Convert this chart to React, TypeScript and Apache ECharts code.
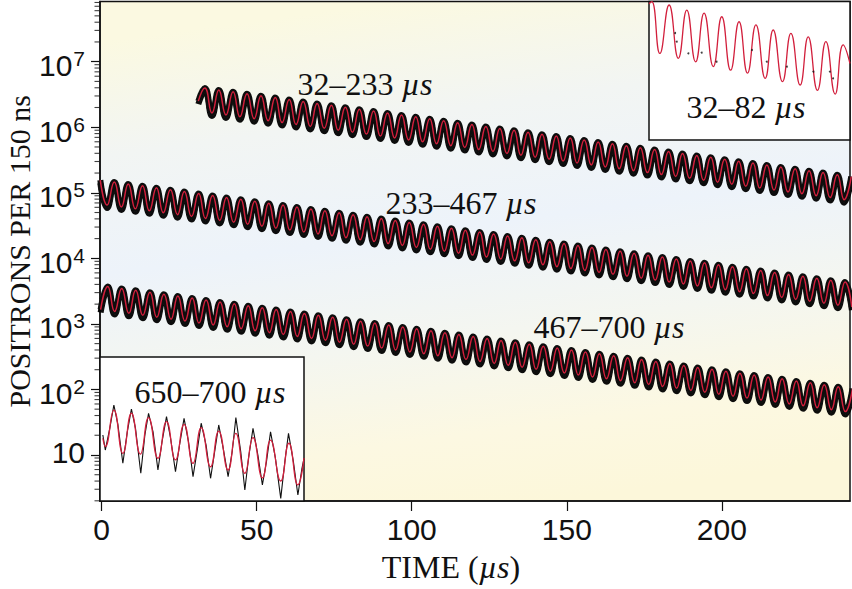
import { useEffect, useRef } from 'react'
import * as echarts from 'echarts'

// 计数用 log10 画在数值轴上，刻度和标签手动给出
const yDecades = [1, 2, 3, 4, 5, 6, 7]
const yMantissas = [2, 3, 4, 5, 6, 7, 8, 9]
const xTicks = [0, 50, 100, 150, 200]

// 拟合曲线的峰/谷 [时间 µs, 每 150 ns 正电子数]
const band1Fit = [
  [31.2, 2500000],
  [33.3, 3970000], [35.6, 1652000], [37.8, 3710000], [40.1, 1543000],
  [42.4, 3468000], [44.6, 1443000], [46.9, 3241000], [49.2, 1348000],
  [51.4, 3029000], [53.7, 1260000], [56.0, 2831000], [58.2, 1178000],
  [60.5, 2645000], [62.7, 1100000], [65.0, 2472000], [67.3, 1028000],
  [69.5, 2311000], [71.8, 961000], [74.1, 2159000], [76.3, 898000],
  [78.6, 2018000], [80.9, 839000], [83.1, 1886000], [85.4, 785000],
  [87.7, 1763000], [89.9, 733000], [92.2, 1648000], [94.5, 686000],
  [96.7, 1540000], [99.0, 641000], [101.3, 1439000], [103.5, 599000],
  [105.8, 1345000], [108.0, 560000], [110.3, 1257000], [112.6, 523000],
  [114.8, 1175000], [117.1, 489000], [119.4, 1098000], [121.6, 457000],
  [123.9, 1026000], [126.2, 427000], [128.4, 959000], [130.7, 399000],
  [133.0, 896000], [135.2, 373000], [137.5, 838000], [139.8, 349000],
  [142.0, 783000], [144.3, 326000], [146.6, 732000], [148.8, 305000],
  [151.1, 684000], [153.3, 285000], [155.6, 639000], [157.9, 266000],
  [160.1, 597000], [162.4, 248000], [164.7, 558000], [166.9, 232000],
  [169.2, 522000], [171.5, 217000], [173.7, 488000], [176.0, 203000],
  [178.3, 456000], [180.5, 190000], [182.8, 426000], [185.1, 177000],
  [187.3, 398000], [189.6, 166000], [191.9, 372000], [194.1, 155000],
  [196.4, 348000], [198.6, 145000], [200.9, 325000], [203.2, 135000],
  [205.4, 304000], [207.7, 126000], [210.0, 284000], [212.2, 118000],
  [214.5, 265000], [216.8, 110000], [219.0, 248000], [221.3, 103000],
  [223.6, 232000], [225.8, 96500], [228.1, 217000], [230.4, 90300],
  [232.6, 203000], [234.9, 84400], [237.2, 189000], [239.4, 78600],
  [241.7, 177000],
]

const band2Fit = [
  [-0.4, 156400], [1.8, 65060], [4.1, 146200], [6.4, 60820],
  [8.6, 136600], [10.9, 56830], [13.2, 127700], [15.4, 53120],
  [17.7, 119300], [19.9, 49630], [22.2, 111500], [24.5, 46380],
  [26.7, 104200], [29.0, 43350], [31.3, 97400], [33.5, 40520],
  [35.8, 91030], [38.1, 37870], [40.3, 85070], [42.6, 35390],
  [44.9, 79510], [47.1, 33080], [49.4, 74310], [51.7, 30910],
  [53.9, 69450], [56.2, 28890], [58.5, 64900], [60.7, 27000],
  [63.0, 60660], [65.2, 25230], [67.5, 56690], [69.8, 23580],
  [72.0, 52980], [74.3, 22040], [76.6, 49510], [78.8, 20600],
  [81.1, 46270], [83.4, 19250], [85.6, 43250], [87.9, 17990],
  [90.2, 40420], [92.4, 16810], [94.7, 37780], [97.0, 15720],
  [99.2, 35300], [101.5, 14680], [103.8, 32990], [106.0, 13720],
  [108.3, 30840], [110.5, 12830], [112.8, 28820], [115.1, 11990],
  [117.3, 26930], [119.6, 11200], [121.9, 25170], [124.1, 10470],
  [126.4, 23530], [128.7, 9788], [130.9, 21990], [133.2, 9148],
  [135.5, 20550], [137.7, 8549], [140.0, 19200], [142.3, 7987],
  [144.5, 17950], [146.8, 7467], [149.1, 16770], [151.3, 6976],
  [153.6, 15680], [155.8, 6523], [158.1, 14650], [160.4, 6094],
  [162.6, 13690], [164.9, 5695], [167.2, 12800], [169.4, 5325],
  [171.7, 11960], [174.0, 4975], [176.2, 11180], [178.5, 4651],
  [180.8, 10450], [183.0, 4347], [185.3, 9760], [187.6, 4060],
  [189.8, 9120], [192.1, 3794], [194.4, 8530], [196.6, 3548],
  [198.9, 7970], [201.1, 3316], [203.4, 7450], [205.7, 3099],
  [207.9, 6960], [210.2, 2895], [212.5, 6510], [214.7, 2708],
  [217.0, 6080], [219.3, 2529], [221.5, 5680], [223.8, 2363],
  [226.1, 5310], [228.3, 2209], [230.6, 4960], [232.9, 2063],
  [235.1, 4640], [237.4, 1930], [239.7, 4340], [241.9, 1805],
]

const band3Fit = [
  [-0.3, 1656],
  [2.0, 3721], [4.2, 1548], [6.5, 3478], [8.8, 1447],
  [11.0, 3250], [13.3, 1352], [15.6, 3037], [17.8, 1263],
  [20.1, 2839], [22.4, 1181], [24.6, 2653], [26.9, 1104],
  [29.2, 2479], [31.4, 1031], [33.7, 2317], [36.0, 964],
  [38.2, 2166], [40.5, 901], [42.8, 2024], [45.0, 842],
  [47.3, 1892], [49.5, 787], [51.8, 1768], [54.1, 735],
  [56.3, 1652], [58.6, 687], [60.9, 1544], [63.1, 642],
  [65.4, 1443], [67.7, 600], [69.9, 1349], [72.2, 561],
  [74.5, 1261], [76.7, 525], [79.0, 1178], [81.3, 490],
  [83.5, 1101], [85.8, 458], [88.1, 1029], [90.3, 428],
  [92.6, 962], [94.8, 400], [97.1, 899], [99.4, 374],
  [101.6, 840], [103.9, 349], [106.2, 785], [108.4, 327],
  [110.7, 734], [113.0, 305], [115.2, 686], [117.5, 285],
  [119.8, 641], [122.0, 267], [124.3, 599], [126.6, 249],
  [128.8, 560], [131.1, 233], [133.4, 523], [135.6, 218],
  [137.9, 489], [140.1, 203], [142.4, 457], [144.7, 190],
  [146.9, 427], [149.2, 178], [151.5, 399], [153.7, 166],
  [156.0, 373], [158.3, 155], [160.5, 349], [162.8, 145],
  [165.1, 326], [167.3, 136], [169.6, 304], [171.9, 126],
  [174.1, 285], [176.4, 119], [178.7, 266], [180.9, 111],
  [183.2, 249], [185.4, 104], [187.7, 232], [190.0, 96.5],
  [192.2, 217], [194.5, 90.3], [196.8, 203], [199.0, 84.4],
  [201.3, 190], [203.6, 78.9], [205.8, 177], [208.1, 73.7],
  [210.4, 166], [212.6, 68.9], [214.9, 155], [217.2, 64.4],
  [219.4, 145], [221.7, 60.2], [224.0, 135], [226.2, 56.2],
  [228.5, 126], [230.7, 52.5], [233.0, 118], [235.3, 49.1],
  [237.5, 110], [239.8, 45.9], [242.1, 103],
]

// 右上插图 32–82 µs
const earlyFit = [
  [32.0, 3850000], [32.7, 3990000], [34.7, 1660000], [37.0, 3770000],
  [39.3, 1530000], [41.4, 3460000], [43.6, 1440000], [45.7, 3280000],
  [48.0, 1330000], [50.1, 3090000], [52.3, 1250000], [54.4, 2840000],
  [56.5, 1190000], [58.6, 2690000], [60.9, 1090000], [62.9, 2470000],
  [65.2, 1030000], [67.3, 2330000], [69.6, 973000], [71.6, 2200000],
  [73.9, 890000], [76.0, 2030000], [78.3, 835000], [80.3, 1920000],
  [82.0, 1400000],
]
const earlyData = [
  [38.5, 2346000], [38.9, 2025000], [41.8, 1663000], [45.1, 1681000],
  [48.8, 1443000], [57.6, 1760000], [61.3, 1443000], [66.3, 1327000],
  [72.9, 1220000], [77.0, 1220000], [77.8, 1090000],
]

// 左下插图 650–700 µs
const lateFit = [
  [650.7, 18.0], [651.3, 13.4], [653.4, 48.5], [655.6, 10.6],
  [657.7, 43.3], [659.9, 10.3], [661.9, 37.1], [664.2, 8.91],
  [666.3, 32.2], [668.5, 8.4], [670.6, 29.4], [672.8, 7.47],
  [674.8, 26.1], [677.1, 6.62], [679.1, 23.2], [681.4, 5.9],
  [683.3, 21.4], [685.5, 5.26], [687.5, 18.4], [689.8, 4.46],
  [691.8, 16.9], [694.3, 4.01], [696.3, 15.1], [698.5, 3.49],
  [700.0, 9.0],
]
const lateData = [
  [650.7, 20.2], [651.3, 11.9], [652.4, 25.5], [653.4, 57.9], [654.4, 28.7],
  [655.6, 7.47], [656.7, 22.7], [657.7, 50.3], [658.7, 25.5], [660.0, 5.26],
  [661.0, 20.2], [661.9, 43.3], [663.0, 22.6], [664.2, 5.9], [665.2, 15.9],
  [666.3, 38.4], [667.3, 18.0], [668.5, 5.56], [669.5, 14.2], [670.6, 36.3],
  [671.7, 15.9], [672.8, 4.67], [673.9, 12.6], [674.8, 30.5], [676.0, 14.2],
  [677.1, 4.41], [678.1, 11.2], [679.1, 28.7], [680.2, 12.6], [681.4, 4.67],
  [682.4, 11.2], [683.3, 37.1], [684.5, 11.2], [685.5, 2.92], [686.4, 8.91],
  [687.5, 25.5], [688.7, 10.0], [689.8, 3.49], [690.8, 7.9], [691.8, 22.6],
  [693.0, 8.91], [694.3, 2.18], [695.3, 7.9], [696.2, 21.4], [697.4, 7.9],
  [698.5, 2.45], [699.5, 6.27], [700.0, 8.91],
]

const SERIF = '"Liberation Serif", "DejaVu Serif", serif'
const TICK_FONT = '"Liberation Sans Narrow", "Liberation Sans", sans-serif'
const INK = '#111'
const RED = '#d21f3c'
const X_MIN = -0.5
const Y_MIN = 0.298
const Y_MAX = 7.918

const toLog = (pts: number[][]) => pts.map(([t, v]) => [t, Math.log10(v)])

export default function App() {
  const ref = useRef<HTMLDivElement>(null)

  useEffect(() => {
    if (!ref.current) return
    const chart = echarts.init(ref.current, undefined, { renderer: 'svg' })

    // 对数轴的次刻度 2..9 × 10^d，用贴在左轴上的短横线表示
    const minorTicks: number[][] = []
    for (let d = 0; d <= 7; d++) {
      for (const m of yMantissas) {
        const v = Math.log10(m * Math.pow(10, d))
        if (v > Y_MIN && v < Y_MAX) minorTicks.push([X_MIN, v])
      }
    }

    // 黑色为数据点带（向下略厚），红色为拟合曲线
    const bandLine = (data: number[][], black: boolean) => ({
      type: 'line',
      xAxisIndex: 0,
      yAxisIndex: 0,
      data: toLog(data),
      smooth: true,
      symbol: 'none',
      z: black ? 2 : 3,
      lineStyle: black
        ? {
            color: INK, width: 6, join: 'round',
            shadowColor: 'rgba(0,0,0,0.95)', shadowBlur: 1, shadowOffsetY: 3,
          }
        : { color: RED, width: 1.5 },
    })

    const label = (text: string, x: number, y: number) => ({
      type: 'text',
      x,
      y,
      z: 100,
      style: {
        text,
        fontSize: 32,
        fontFamily: SERIF,
        fill: INK,
        align: 'center',
        verticalAlign: 'middle',
        textAlign: 'center',
        textVerticalAlign: 'middle',
        rich: { i: { fontStyle: 'italic', fontSize: 32, fontFamily: SERIF, fill: INK } },
      },
    })

    const bg = new echarts.graphic.LinearGradient(0.4, 0, 0.6, 1, [
      { offset: 0, color: '#fbf9e1' },
      { offset: 0.22, color: '#f2f5f3' },
      { offset: 0.45, color: '#edf3fa' },
      { offset: 0.66, color: '#f4f6f0' },
      { offset: 0.85, color: '#fcf8e2' },
      { offset: 1, color: '#fcf7da' },
    ])

    chart.setOption({
      animation: false,
      grid: [
        {
          left: 100, top: 1.5, right: 2, bottom: 88, z: 0, outerBoundsMode: 'none',
          show: true, backgroundColor: bg, borderColor: INK, borderWidth: 1.5,
        },
        {
          left: 649, top: 1.5, width: 201, height: 138.5, z: 1, outerBoundsMode: 'none',
          show: true, backgroundColor: '#fff', borderColor: INK, borderWidth: 1.5,
        },
        {
          left: 100, top: 357, width: 204, height: 144, z: 1, outerBoundsMode: 'none',
          show: true, backgroundColor: '#fff', borderColor: INK, borderWidth: 1.5,
        },
      ],
      xAxis: [
        {
          type: 'value',
          gridIndex: 0,
          min: X_MIN,
          max: 241.3,
          name: 'TIME ({i|µs})',
          nameLocation: 'middle',
          nameGap: 50,
          nameMoveOverlap: false,
          nameTextStyle: {
            fontFamily: SERIF, fontSize: 32, color: INK, padding: [0, 48, 0, 0],
            rich: { i: { fontStyle: 'italic', fontFamily: SERIF, fontSize: 32, color: INK } },
          },
          axisLine: { onZero: false, lineStyle: { color: INK, width: 1.5 } },
          axisTick: { customValues: xTicks, length: 10, inside: false, lineStyle: { color: INK, width: 1.2 } },
          axisLabel: {
            customValues: xTicks, margin: 13, fontFamily: TICK_FONT, fontSize: 30, color: INK,
          },
          splitLine: { show: false },
        },
        { type: 'value', gridIndex: 1, min: 32, max: 82, show: false },
        { type: 'value', gridIndex: 2, min: 650, max: 700, show: false },
      ],
      yAxis: [
        {
          type: 'value',
          gridIndex: 0,
          position: 'left',
          min: Y_MIN,
          max: Y_MAX,
          name: 'POSITRONS PER 150 ns',
          nameLocation: 'middle',
          nameGap: 66,
          nameMoveOverlap: false,
          nameTextStyle: { fontFamily: SERIF, fontSize: 30, color: INK },
          axisLine: { show: true, onZero: false, lineStyle: { color: INK, width: 1.5 } },
          axisTick: { customValues: yDecades, length: 9, inside: false, lineStyle: { color: INK, width: 1.2 } },
          axisLabel: {
            customValues: yDecades,
            margin: 15,
            color: INK,
            formatter: (v: number) => {
              const d = Math.round(v)
              return d === 1 ? '{c|10}' : `{b|10}{s|${d}}`
            },
            rich: {
              c: { fontFamily: TICK_FONT, fontSize: 30, color: INK, padding: [0, 0, 4, 0] },
              b: { fontFamily: TICK_FONT, fontSize: 30, color: INK, padding: [8, 0, 0, 0] },
              s: { fontFamily: TICK_FONT, fontSize: 21, color: INK, padding: [0, 0, 6, 1] },
            },
          },
          splitLine: { show: false },
        },
        { type: 'value', gridIndex: 1, min: 5.584, max: 6.602, show: false },
        { type: 'value', gridIndex: 2, min: Y_MIN, max: 2.495, show: false },
      ],
      series: [
        bandLine(band1Fit, true),
        bandLine(band2Fit, true),
        bandLine(band3Fit, true),
        bandLine(band1Fit, false),
        bandLine(band2Fit, false),
        bandLine(band3Fit, false),
        {
          // 次刻度
          type: 'scatter',
          xAxisIndex: 0,
          yAxisIndex: 0,
          data: minorTicks,
          symbol: 'rect',
          symbolSize: [5, 1.1],
          symbolOffset: [-3, 0],
          clip: false,
          silent: true,
          itemStyle: { color: INK },
          z: 6,
        },
        {
          type: 'line',
          xAxisIndex: 1,
          yAxisIndex: 1,
          data: toLog(earlyFit),
          smooth: true,
          symbol: 'none',
          lineStyle: { color: RED, width: 1.3 },
          z: 3,
        },
        {
          type: 'scatter',
          xAxisIndex: 1,
          yAxisIndex: 1,
          data: toLog(earlyData),
          symbolSize: 2,
          itemStyle: { color: INK },
          z: 4,
        },
        {
          type: 'line',
          xAxisIndex: 2,
          yAxisIndex: 2,
          data: toLog(lateData),
          symbol: 'none',
          lineStyle: { color: INK, width: 1.1 },
          z: 2,
        },
        {
          type: 'line',
          xAxisIndex: 2,
          yAxisIndex: 2,
          data: toLog(lateFit),
          smooth: true,
          symbol: 'none',
          lineStyle: { color: RED, width: 1.3 },
          z: 3,
        },
      ],
      graphic: [
        label('32–233 {i|µs}', 365, 84),
        label('233–467 {i|µs}', 461, 203),
        label('467–700 {i|µs}', 609, 327),
        label('32–82 {i|µs}', 746, 107),
        label('650–700 {i|µs}', 210, 392),
      ],
    })

    return () => chart.dispose()
  }, [])

  return <div ref={ref} style={{ position: 'absolute', left: 0, top: 0, width: 852, height: 589 }} />
}
